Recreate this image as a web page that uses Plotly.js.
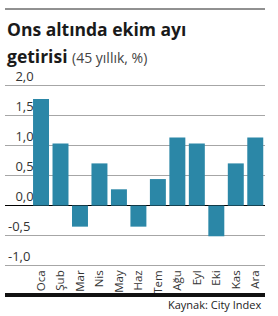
<!DOCTYPE html>
<html>
<head>
<meta charset="utf-8">
<script src="https://cdn.plot.ly/plotly-3.0.1.min.js"></script>
<style>html,body{margin:0;padding:0;background:#fff;}#chart{width:278px;height:316px;}</style>
</head>
<body>
<div id="chart"></div>
<script>
const months = ["Oca","Şub","Mar","Nis","May","Haz","Tem","Ağu","Eyl","Eki","Kas","Ara"];
const returns = [1.77, 1.03, -0.35, 0.70, 0.27, -0.35, 0.44, 1.13, 1.03, -0.51, 0.70, 1.13];
const yTickVals = [-1.0, -0.5, 0.0, 0.5, 1.0, 1.5, 2.0];
const yTickLabels = ["-1,0", "-0,5", "0,0", "0,5", "1,0", "1,5", "2,0"];
const titleLine1 = "Ons altında ekim ayı";
const titleLine2 = "getirisi";
const titleNote = "(45 yıllık, %)";
const sourceText = "Kaynak: City Index";

const FONT = "Open Sans, Noto Sans, sans-serif";
const H = 316, T = 58, B = 49;
const plotH = H - T - B;
const py = p => (H - B - p) / plotH;      // pixel y -> paper y
const px = p => (p - 5) / 260;            // pixel x -> paper x

const trace = {
  type: "bar",
  x: months,
  y: returns,
  marker: {color: "#2b87a7", line: {width: 0}},
  hoverinfo: "skip"
};

const layout = {
  width: 278, height: 316,
  margin: {l: 5, r: 13, t: T, b: B, pad: 0},
  paper_bgcolor: "#fff", plot_bgcolor: "#fff",
  showlegend: false,
  bargap: 0.18,
  font: {family: FONT, color: "#333"},
  xaxis: {
    type: "category",
    range: [-1.85, 11.5],
    tickangle: -90,
    ticks: "",
    showgrid: false,
    showline: false,
    zeroline: false,
    tickfont: {size: 11.5, color: "#333", family: FONT},
    fixedrange: true
  },
  yaxis: {
    range: [-1.02, 2.45],
    tickmode: "array",
    tickvals: yTickVals,
    ticktext: yTickLabels.map(s => s.startsWith("-") ? s : "\u2007" + s),
    ticklabelposition: "inside top",
    ticks: "",
    showgrid: true,
    gridcolor: "#a6a6a6",
    gridwidth: 1,
    zeroline: true,
    zerolinecolor: "#000",
    zerolinewidth: 1.5,
    showline: false,
    tickfont: {size: 13, color: "#333", family: FONT},
    fixedrange: true
  },
  shapes: [
    {type: "line", xref: "paper", yref: "paper", x0: 0, x1: 1, y0: py(9), y1: py(9),
     line: {color: "#222", width: 1}},
    {type: "line", xref: "paper", yref: "paper", x0: 0, x1: 1, y0: py(295), y1: py(295),
     line: {color: "#111", width: 4}}
  ],
  annotations: [
    {xref: "paper", yref: "paper", x: px(5), y: py(29), xanchor: "left", yanchor: "middle",
     showarrow: false, text: "<b>" + titleLine1 + "</b>",
     font: {size: 17.5, color: "#1a1a1a", family: FONT}},
    {xref: "paper", yref: "paper", x: px(5), y: py(56), xanchor: "left", yanchor: "middle",
     showarrow: false,
     text: "<b>" + titleLine2 + "</b> <span style='font-size:14px;color:#444'>" + titleNote + "</span>",
     font: {size: 17.5, color: "#1a1a1a", family: FONT}},
    {xref: "paper", yref: "paper", x: px(263), y: py(304), xanchor: "right", yanchor: "middle",
     showarrow: false, text: sourceText,
     font: {size: 11, color: "#222", family: FONT}}
  ]
};

Plotly.newPlot("chart", [trace], layout, {displayModeBar: false, staticPlot: true});
</script>
</body>
</html>
